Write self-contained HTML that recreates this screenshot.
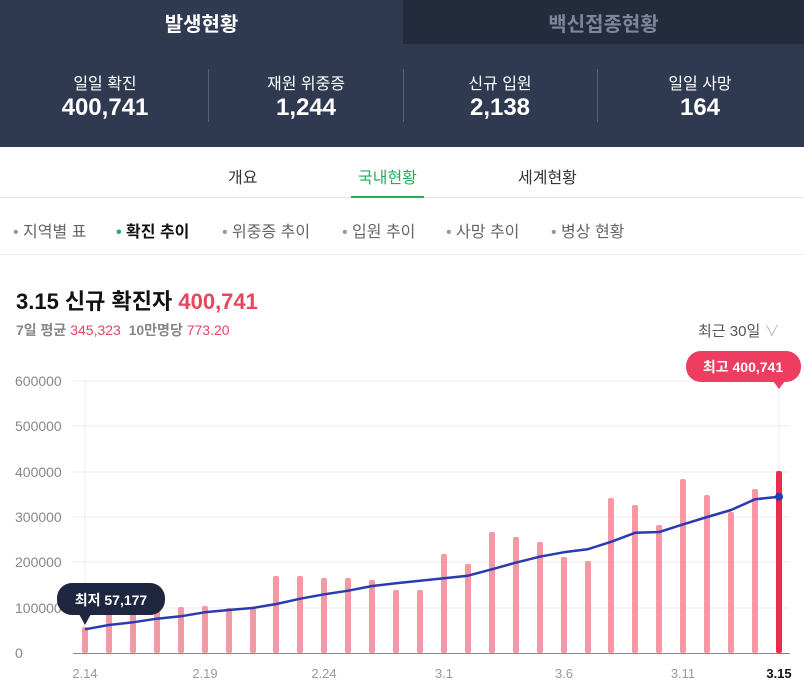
<!DOCTYPE html><html><head><meta charset="utf-8"><style>
body{margin:0;width:804px;height:685px;overflow:hidden;background:#fff;font-family:"Liberation Sans","Noto Sans CJK KR",sans-serif;position:relative}
.a{position:absolute;white-space:nowrap}
</style></head><body>
<div class="a" style="left:0;top:0;width:804px;height:147px;background:#2f3a51"></div>
<div class="a" style="left:403px;top:0;width:401px;height:44px;background:#232b3d"></div>
<div class="a" style="left:0;top:8px;width:403px;text-align:center;color:#fff;font-size:20px;font-weight:bold">발생현황</div>
<div class="a" style="left:403px;top:8px;width:401px;text-align:center;color:#7d879c;font-size:20px;font-weight:bold">백신접종현황</div>
<div class="a" style="left:208px;top:69px;width:1px;height:53px;background:#59627a"></div>
<div class="a" style="left:403px;top:69px;width:1px;height:53px;background:#59627a"></div>
<div class="a" style="left:597px;top:69px;width:1px;height:53px;background:#59627a"></div>
<div class="a" style="left:5px;top:70px;width:200px;text-align:center;color:#fff;font-size:16px">일일 확진</div>
<div class="a" style="left:5px;top:94px;width:200px;text-align:center;color:#fff;font-size:24px;font-weight:bold">400,741</div>
<div class="a" style="left:206px;top:70px;width:200px;text-align:center;color:#fff;font-size:16px">재원 위중증</div>
<div class="a" style="left:206px;top:94px;width:200px;text-align:center;color:#fff;font-size:24px;font-weight:bold">1,244</div>
<div class="a" style="left:400px;top:70px;width:200px;text-align:center;color:#fff;font-size:16px">신규 입원</div>
<div class="a" style="left:400px;top:94px;width:200px;text-align:center;color:#fff;font-size:24px;font-weight:bold">2,138</div>
<div class="a" style="left:600px;top:70px;width:200px;text-align:center;color:#fff;font-size:16px">일일 사망</div>
<div class="a" style="left:600px;top:94px;width:200px;text-align:center;color:#fff;font-size:24px;font-weight:bold">164</div>
<div class="a" style="left:0;top:197px;width:804px;height:1px;background:#e6e6e6"></div>
<div class="a" style="left:351px;top:196px;width:73px;height:2px;background:#1fb15a"></div>
<div class="a" style="left:228px;top:164px;font-size:16px;color:#333">개요</div>
<div class="a" style="left:358px;top:164px;font-size:16px;color:#1fb15a">국내현황</div>
<div class="a" style="left:518px;top:164px;font-size:16px;color:#333">세계현황</div>
<div class="a" style="left:0;top:254px;width:804px;height:1px;background:#eee"></div>
<div class="a" style="left:13px;top:218px;font-size:16px;color:#666"><span style="color:#999">•</span> 지역별 표</div>
<div class="a" style="left:116px;top:218px;font-size:16px;color:#111;font-weight:bold"><span style="color:#1fb15a">•</span> 확진 추이</div>
<div class="a" style="left:222px;top:218px;font-size:16px;color:#666"><span style="color:#999">•</span> 위중증 추이</div>
<div class="a" style="left:342px;top:218px;font-size:16px;color:#666"><span style="color:#999">•</span> 입원 추이</div>
<div class="a" style="left:446px;top:218px;font-size:16px;color:#666"><span style="color:#999">•</span> 사망 추이</div>
<div class="a" style="left:551px;top:218px;font-size:16px;color:#666"><span style="color:#999">•</span> 병상 현황</div>
<div class="a" style="left:16px;top:284px;font-size:22px;font-weight:bold;color:#111">3.15 신규 확진자 <span style="color:#e8455f">400,741</span></div>
<div class="a" style="left:16px;top:320px;font-size:14px;color:#888"><b>7일 평균</b> <span style="color:#e8455f">345,323</span> &nbsp;<b>10만명당</b> <span style="color:#e8455f">773.20</span></div>
<div class="a" style="left:698px;top:320px;font-size:15px;color:#555">최근 30일 <span style="color:#bbb">∨</span></div>
<svg class="a" style="left:0;top:0" width="804" height="685" font-family="Liberation Sans, sans-serif">
<g stroke="#eee" stroke-width="1">
<line x1="73" x2="790" y1="381" y2="381"/><line x1="73" x2="790" y1="426" y2="426"/><line x1="73" x2="790" y1="472" y2="472"/><line x1="73" x2="790" y1="517" y2="517"/><line x1="73" x2="790" y1="562" y2="562"/><line x1="73" x2="790" y1="608" y2="608"/>
<line x1="85" x2="85" y1="381" y2="653"/><line x1="779" x2="779" y1="381" y2="653"/>
</g>
<line x1="73" x2="790" y1="653.5" y2="653.5" stroke="#888"/>
<g font-size="14" fill="#888">
<text x="15" y="386">600000</text><text x="15" y="431">500000</text><text x="15" y="477">400000</text><text x="15" y="522">300000</text><text x="15" y="567">200000</text><text x="15" y="613">100000</text><text x="15" y="658">0</text>
</g>
<g font-size="13" fill="#999" text-anchor="middle">
<text x="85" y="678">2.14</text><text x="205" y="678">2.19</text><text x="324" y="678">2.24</text><text x="444" y="678">3.1</text><text x="564" y="678">3.6</text><text x="683" y="678">3.11</text><text x="779" y="678" fill="#111" font-weight="bold">3.15</text>
</g>
<g fill="#f598a6">
<rect x="82" y="627" width="6" height="26" rx="2"/><rect x="106" y="611" width="6" height="42" rx="2"/><rect x="130" y="611" width="6" height="42" rx="2"/><rect x="154" y="609" width="6" height="44" rx="2"/><rect x="178" y="607" width="6" height="46" rx="2"/><rect x="202" y="606" width="6" height="47" rx="2"/><rect x="226" y="608" width="6" height="45" rx="2"/><rect x="250" y="607" width="6" height="46" rx="2"/><rect x="273" y="576" width="6" height="77" rx="2"/><rect x="297" y="576" width="6" height="77" rx="2"/><rect x="321" y="578" width="6" height="75" rx="2"/><rect x="345" y="578" width="6" height="75" rx="2"/><rect x="369" y="580" width="6" height="73" rx="2"/><rect x="393" y="590" width="6" height="63" rx="2"/><rect x="417" y="590" width="6" height="63" rx="2"/><rect x="441" y="554" width="6" height="99" rx="2"/><rect x="465" y="564" width="6" height="89" rx="2"/><rect x="489" y="532" width="6" height="121" rx="2"/><rect x="513" y="537" width="6" height="116" rx="2"/><rect x="537" y="542" width="6" height="111" rx="2"/><rect x="561" y="557" width="6" height="96" rx="2"/><rect x="585" y="561" width="6" height="92" rx="2"/><rect x="608" y="498" width="6" height="155" rx="2"/><rect x="632" y="505" width="6" height="148" rx="2"/><rect x="656" y="525" width="6" height="128" rx="2"/><rect x="680" y="479" width="6" height="174" rx="2"/><rect x="704" y="495" width="6" height="158" rx="2"/><rect x="728" y="512" width="6" height="141" rx="2"/><rect x="752" y="489" width="6" height="164" rx="2"/>
</g>
<rect x="776" y="471" width="6" height="182" rx="2" fill="#ea2c4e"/>
<polyline fill="none" stroke="#2a3bb0" stroke-width="2.5" stroke-linejoin="round" points="85,629.3 108.9,625 132.9,622.3 156.8,618.7 180.7,616.3 204.7,612.3 228.6,610 252.5,608 276.4,604 300.4,598.7 324.3,594.3 348.2,590.7 372.2,586 396.1,583.3 420,580.7 444,578.3 467.9,575.7 491.8,569.3 515.7,562.7 539.7,556.7 563.6,552.3 587.5,549.3 611.5,541.7 635.4,532.7 659.3,532 683.3,524.3 707.2,517 731.1,510 755,499.3 779,496.7"/>
<circle cx="779" cy="496.7" r="4" fill="#2a3bb0"/>
<rect x="57" y="583" width="108" height="32" rx="15" fill="#1f2640"/>
<path d="M79,614 L85,625 L91,614Z" fill="#1f2640"/>
<text x="111" y="605" text-anchor="middle" fill="#fff" font-size="14" font-weight="bold" font-family="Liberation Sans, Noto Sans CJK KR, sans-serif">최저 57,177</text>
<rect x="686" y="351" width="115" height="31" rx="15" fill="#ef3d61"/>
<path d="M773,381 L779,389 L785,381Z" fill="#ef3d61"/>
<text x="743" y="372" text-anchor="middle" fill="#fff" font-size="14" font-weight="bold" font-family="Liberation Sans, Noto Sans CJK KR, sans-serif">최고 400,741</text>
</svg>
</body></html>
